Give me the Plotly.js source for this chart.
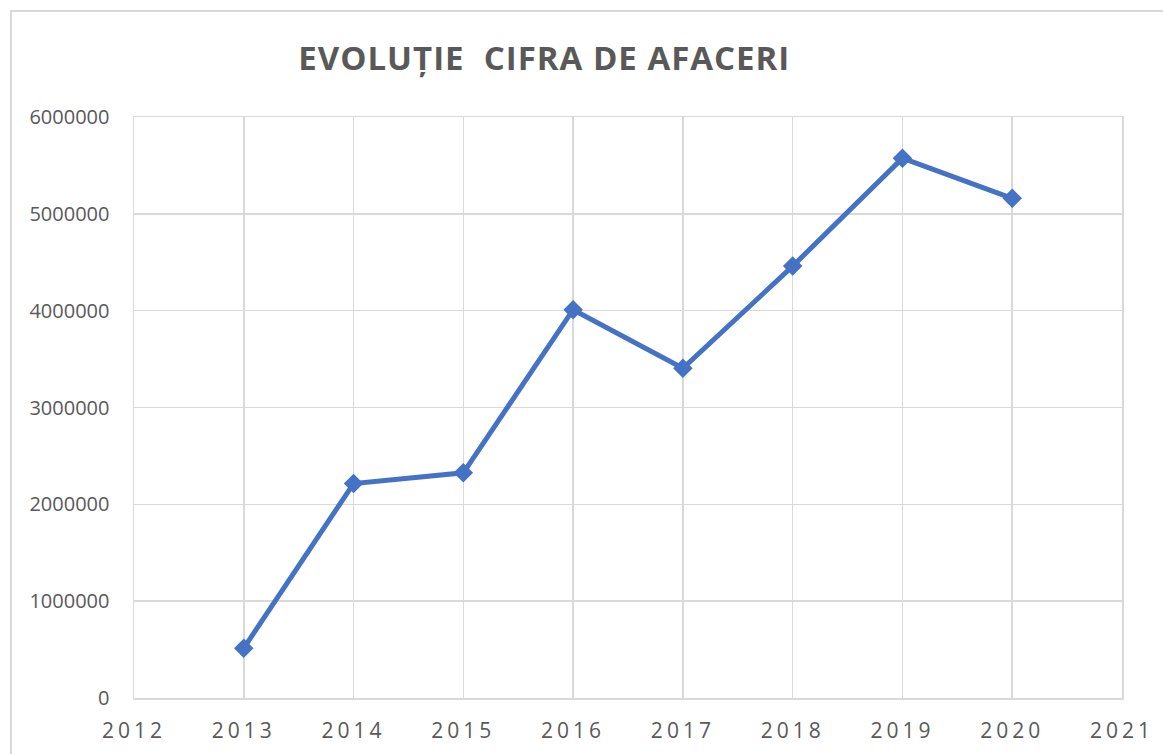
<!DOCTYPE html>
<html>
<head>
<meta charset="utf-8">
<script src="https://cdn.plot.ly/plotly-3.0.1.min.js"></script>
<style>
  html, body { margin: 0; padding: 0; background: #fff; overflow: hidden; }
  #chart { width: 1163px; height: 754px; position: absolute; left: 0; top: 0; }
  #frame { position: absolute; left: 10px; top: 10px; width: 1200px; height: 800px;
           border: 2px solid #d9d9d9; pointer-events: none; box-sizing: border-box; }
  .xtick text { letter-spacing: 4px; }
  .gtitle { letter-spacing: 1px; }
</style>
</head>
<body>
<div id="chart"></div>
<div id="frame"></div>
<script>
const years = [2013, 2014, 2015, 2016, 2017, 2018, 2019, 2020];
const cifraAfaceri = [515000, 2215000, 2325000, 4010000, 3405000, 4460000, 5575000, 5160000];
const xTickVals = [2012, 2013, 2014, 2015, 2016, 2017, 2018, 2019, 2020, 2021];
const yTickVals = [0, 1000000, 2000000, 3000000, 4000000, 5000000, 6000000];
const chartTitle = 'EVOLUȚIE  CIFRA DE AFACERI';

const trace = {
  x: years,
  y: cifraAfaceri,
  type: 'scatter',
  mode: 'lines+markers',
  line: { color: '#4472C4', width: 5 },
  marker: { symbol: 'diamond', size: 15, color: '#4472C4' },
  hoverinfo: 'x+y'
};

const layout = {
  width: 1163,
  height: 754,
  margin: { l: 134, r: 41, t: 117, b: 56 },
  paper_bgcolor: '#ffffff',
  plot_bgcolor: '#ffffff',
  showlegend: false,
  title: {
    text: '<b>' + chartTitle.replace(/  /g, '&nbsp;&nbsp;') + '</b>',
    font: { family: 'Open Sans, sans-serif', size: 33, color: '#595959' },
    x: 0.468, xanchor: 'center',
    y: 0.923, yanchor: 'middle'
  },
  xaxis: {
    range: [2012, 2021],
    tickmode: 'array',
    tickvals: xTickVals,
    ticktext: xTickVals.map(String),
    showgrid: true,
    gridcolor: '#d9d9d9',
    gridwidth: 1.5,
    zeroline: false,
    showline: true,
    linecolor: '#d9d9d9',
    linewidth: 1.5,
    mirror: true,
    ticks: 'outside',
    ticklen: 13,
    tickcolor: 'rgba(0,0,0,0)',
    tickfont: { family: 'Open Sans, sans-serif', size: 21, color: '#595959' },
    automargin: false
  },
  yaxis: {
    range: [0, 6000000],
    tickmode: 'array',
    tickvals: yTickVals,
    ticktext: yTickVals.map(String),
    showgrid: true,
    gridcolor: '#d9d9d9',
    gridwidth: 1.5,
    zeroline: false,
    showline: true,
    linecolor: '#d9d9d9',
    linewidth: 1.5,
    mirror: true,
    ticks: 'outside',
    ticklen: 19,
    tickcolor: 'rgba(0,0,0,0)',
    tickfont: { family: 'Open Sans, sans-serif', size: 20, color: '#595959' },
    automargin: false
  }
};

Plotly.newPlot('chart', [trace], layout, { displayModeBar: false, staticPlot: true });
</script>
</body>
</html>
